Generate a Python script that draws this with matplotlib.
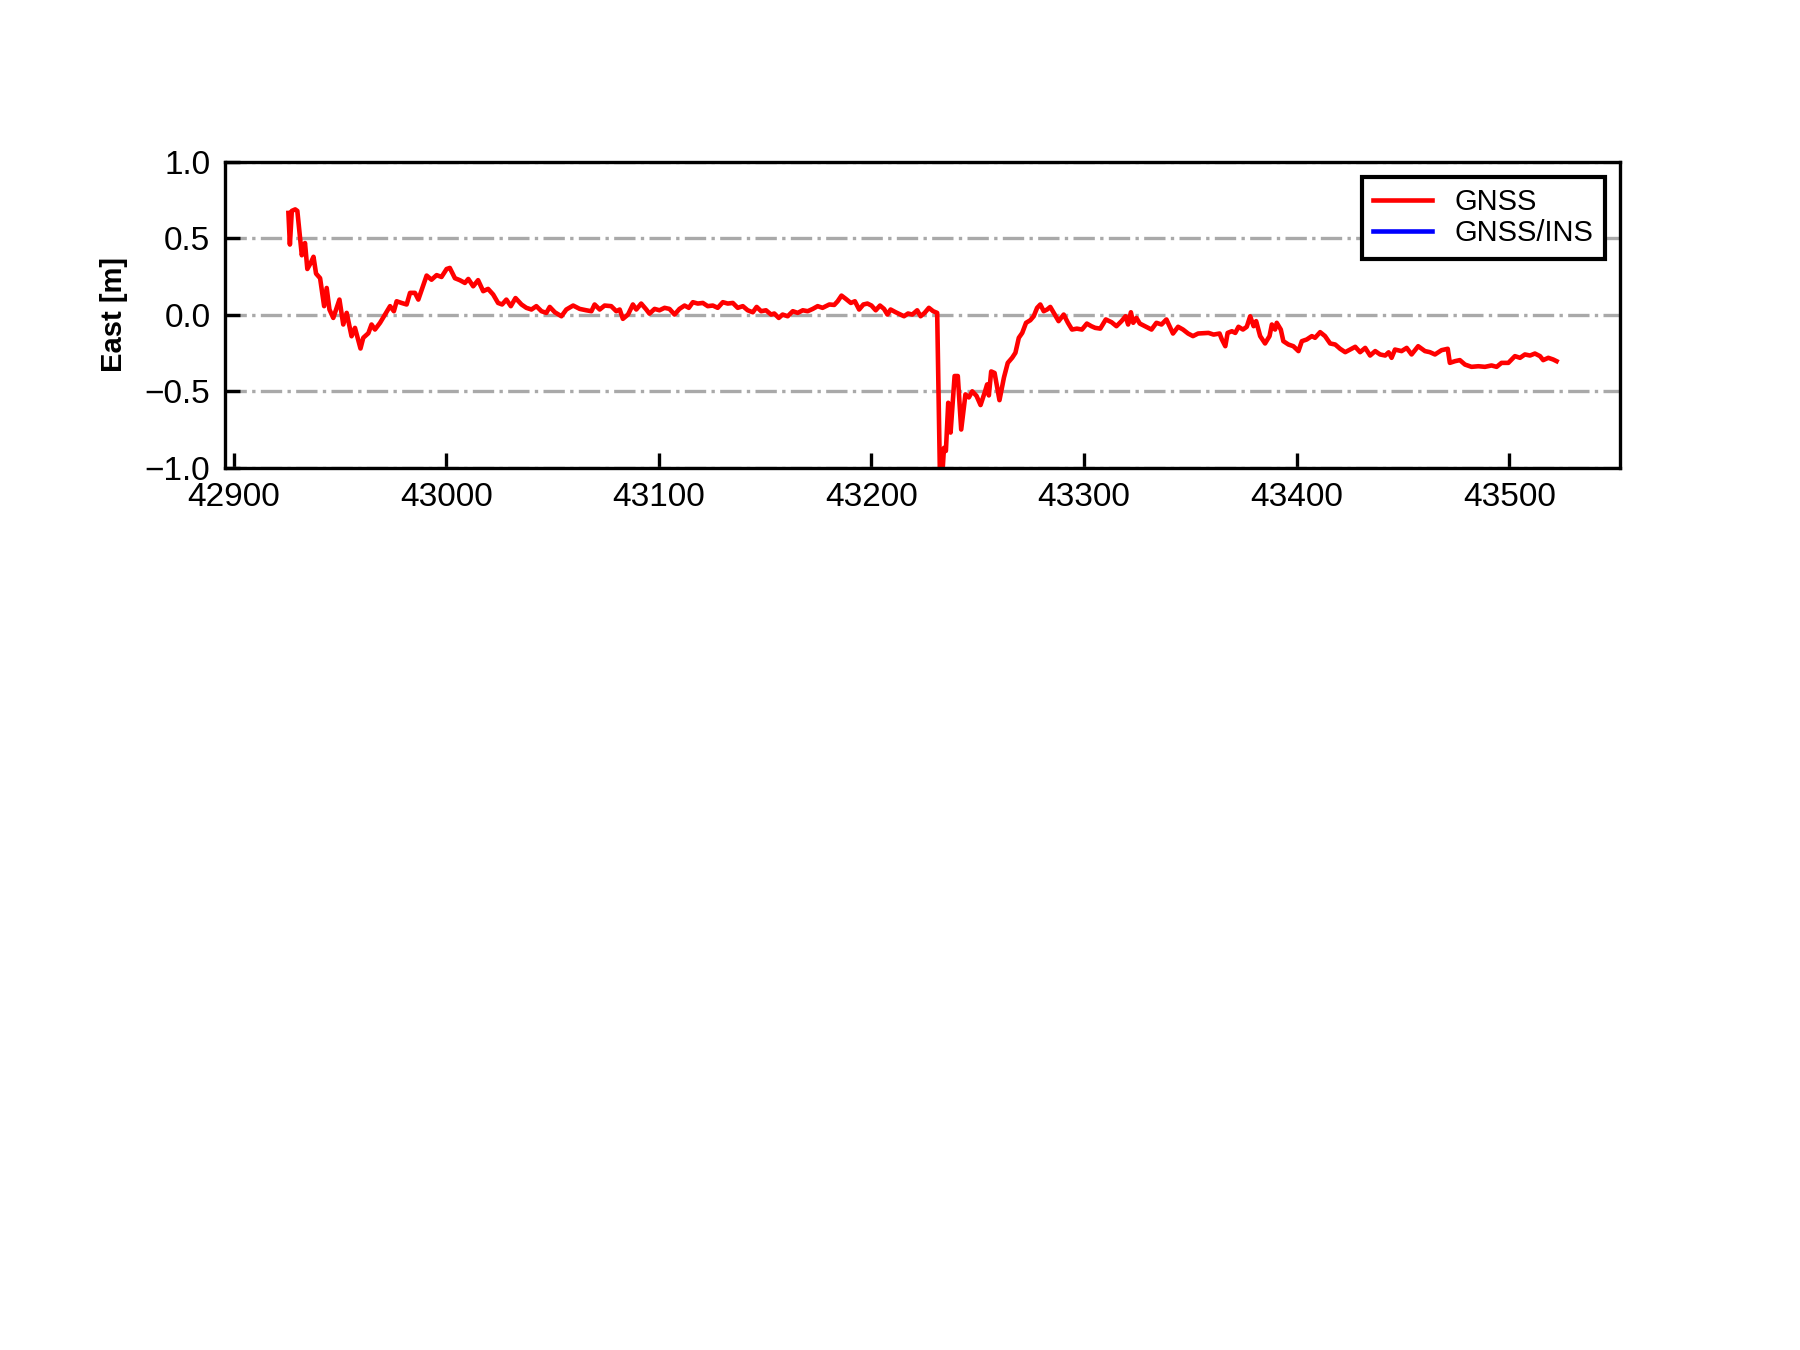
import matplotlib
matplotlib.use('Agg')
import matplotlib.pyplot as plt

plt.rcParams['font.family'] = ['Liberation Sans', 'DejaVu Sans']
plt.rcParams['font.size'] = 8

### GNSS east error (time in s of week)
t_gnss = [42925.8, 42926.5, 42927.4, 42929.0, 42930.0, 42932.1, 42933.6, 42934.7,
          42936.3, 42937.6, 42938.8, 42940.7, 42942.6, 42943.8, 42945.1, 42946.9,
          42949.8, 42951.6, 42953.2, 42955.5, 42957.1, 42959.7, 42961.0, 42963.4,
          42964.9, 42966.5, 42968.9, 42971.2, 42973.6, 42975.4, 42976.7, 42979.0,
          42981.4, 42983.0, 42985.3, 42986.9, 42990.8, 42993.1, 42995.5, 42997.8,
          43000.2, 43001.7, 43004.1, 43006.4, 43008.8, 43010.4, 43012.7, 43015.0,
          43017.4, 43019.7, 43022.1, 43024.4, 43026.3, 43028.3, 43030.4, 43032.6,
          43035.4, 43037.7, 43040.1, 43042.4, 43044.8, 43047.1, 43048.7, 43051.1,
          43054.2, 43056.5, 43059.7, 43062.8, 43065.9, 43068.3, 43069.8, 43072.2,
          43074.5, 43077.6, 43080.0, 43081.6, 43083.1, 43085.5, 43087.8, 43089.4,
          43091.7, 43094.1, 43095.6, 43098.0, 43100.3, 43102.7, 43105.0, 43107.4,
          43109.7, 43112.1, 43114.1, 43116.0, 43118.3, 43120.7, 43123.0, 43125.4,
          43127.7, 43130.1, 43132.4, 43134.8, 43137.1, 43139.5, 43141.8, 43144.2,
          43146.0, 43148.1, 43150.4, 43152.8, 43154.3, 43156.4, 43158.2, 43160.6,
          43163.0, 43165.3, 43167.7, 43170.0, 43172.4, 43174.7, 43177.0, 43180.2,
          43182.5, 43184.1, 43185.9, 43187.9, 43190.3, 43192.2, 43194.2, 43196.2,
          43198.1, 43200.0, 43202.0, 43204.0, 43205.9, 43207.5, 43209.0, 43211.4,
          43213.7, 43215.3, 43217.2, 43219.2, 43221.5, 43223.1, 43225.0, 43227.0,
          43229.0, 43230.9, 43232.2, 43233.3, 43234.1, 43235.0, 43236.1, 43237.2,
          43239.1, 43240.6, 43242.2, 43244.2, 43245.8, 43247.4, 43249.4, 43251.3,
          43253.2, 43254.4, 43255.2, 43256.3, 43257.9, 43260.2, 43262.3, 43264.1,
          43266.2, 43267.7, 43269.3, 43270.9, 43272.7, 43274.7, 43276.3, 43277.9,
          43279.4, 43281.0, 43282.6, 43284.1, 43286.2, 43288.0, 43290.4, 43292.4,
          43294.3, 43296.6, 43299.0, 43301.3, 43303.4, 43305.2, 43307.6, 43310.2,
          43312.9, 43315.2, 43317.6, 43319.5, 43320.7, 43322.0, 43323.1, 43324.6,
          43326.2, 43328.6, 43331.7, 43334.0, 43336.4, 43338.7, 43341.8, 43344.2,
          43346.5, 43348.9, 43351.2, 43353.6, 43355.9, 43358.5, 43360.9, 43363.7,
          43364.8, 43366.4, 43367.5, 43369.5, 43371.1, 43372.6, 43374.7, 43376.5,
          43378.1, 43379.7, 43380.9, 43382.8, 43385.1, 43387.2, 43388.3, 43389.8,
          43390.6, 43392.5, 43393.7, 43396.1, 43398.4, 43400.8, 43402.4, 43404.7,
          43407.1, 43408.6, 43411.0, 43413.3, 43415.7, 43418.1, 43420.4, 43422.8,
          43425.1, 43427.5, 43429.8, 43432.2, 43434.5, 43436.9, 43439.2, 43441.6,
          43443.2, 43444.6, 43446.2, 43449.3, 43451.7, 43454.0, 43457.1, 43460.3,
          43462.6, 43465.0, 43468.1, 43471.0, 43472.0, 43474.4, 43476.7, 43479.1,
          43482.2, 43485.4, 43488.5, 43491.6, 43494.0, 43496.3, 43499.5, 43502.6,
          43505.0, 43507.3, 43509.7, 43512.0, 43514.4, 43515.9, 43518.3, 43520.6,
          43522.2]
e_gnss = [0.667, 0.46, 0.68, 0.69, 0.68, 0.39, 0.47, 0.30,
          0.34, 0.38, 0.27, 0.24, 0.057, 0.176, 0.035, -0.02,
          0.10, -0.063, 0.013, -0.14, -0.085, -0.22, -0.15, -0.12,
          -0.063, -0.096, -0.052, 0.002, 0.057, 0.024, 0.089, 0.078,
          0.068, 0.144, 0.144, 0.10, 0.257, 0.23, 0.26, 0.248,
          0.30, 0.307, 0.24, 0.227, 0.209, 0.235, 0.187, 0.227,
          0.155, 0.17, 0.133, 0.078, 0.068, 0.10, 0.057, 0.11,
          0.068, 0.046, 0.035, 0.057, 0.024, 0.013, 0.052, 0.017,
          -0.009, 0.035, 0.061, 0.039, 0.03, 0.024, 0.068, 0.035,
          0.061, 0.057, 0.024, 0.035, -0.026, 0.002, 0.068, 0.035,
          0.074, 0.035, 0.008, 0.039, 0.03, 0.046, 0.039, 0.002,
          0.039, 0.061, 0.046, 0.083, 0.074, 0.078, 0.057, 0.061,
          0.046, 0.083, 0.074, 0.078, 0.046, 0.057, 0.03, 0.017,
          0.052, 0.024, 0.03, 0.002, 0.009, -0.02, 0.002, -0.009,
          0.024, 0.013, 0.03, 0.024, 0.039, 0.057, 0.046, 0.068,
          0.065, 0.089, 0.126, 0.105, 0.078, 0.089, 0.035, 0.068,
          0.074, 0.061, 0.03, 0.061, 0.039, 0.002, 0.035, 0.017,
          0.002, -0.009, 0.009, 0.002, 0.03, -0.009, 0.013, 0.046,
          0.024, 0.013, -1.05, -1.05, -0.87, -0.89, -0.575, -0.77,
          -0.40, -0.40, -0.75, -0.52, -0.54, -0.50, -0.53, -0.59,
          -0.51, -0.455, -0.527, -0.37, -0.38, -0.558, -0.41, -0.314,
          -0.28, -0.248, -0.15, -0.118, -0.052, -0.035, -0.009, 0.046,
          0.068, 0.024, 0.035, 0.052, 0.002, -0.041, 0.002, -0.052,
          -0.096, -0.09, -0.096, -0.057, -0.074, -0.085, -0.09, -0.03,
          -0.048, -0.074, -0.041, -0.009, -0.063, 0.017, -0.052, -0.02,
          -0.057, -0.074, -0.096, -0.052, -0.063, -0.03, -0.122, -0.078,
          -0.096, -0.122, -0.139, -0.122, -0.12, -0.118, -0.129, -0.122,
          -0.161, -0.205, -0.118, -0.107, -0.118, -0.078, -0.096, -0.078,
          -0.009, -0.074, -0.041, -0.139, -0.187, -0.139, -0.063, -0.096,
          -0.052, -0.096, -0.172, -0.194, -0.205, -0.237, -0.172, -0.161,
          -0.139, -0.15, -0.113, -0.139, -0.187, -0.194, -0.222, -0.244,
          -0.227, -0.209, -0.244, -0.216, -0.266, -0.237, -0.259, -0.266,
          -0.245, -0.281, -0.227, -0.237, -0.216, -0.259, -0.205, -0.237,
          -0.244, -0.259, -0.231, -0.222, -0.314, -0.303, -0.296, -0.325,
          -0.34, -0.336, -0.34, -0.331, -0.34, -0.314, -0.314, -0.27,
          -0.281, -0.259, -0.266, -0.253, -0.27, -0.296, -0.281, -0.292,
          -0.303]

### GNSS/INS : only present in the legend, no visible curve
t_ins = []
e_ins = []

fig = plt.figure(figsize=(6, 4.5), dpi=300)
ax = plt.subplot(311)
ax.plot(t_gnss, e_gnss, color='red', lw=1.1, label='GNSS')
ax.plot(t_ins, e_ins, color='blue', lw=1.1, label='GNSS/INS')
ax.set_ylim(-1, 1)
ax.ticklabel_format(axis='x', useOffset=False)
ax.tick_params(direction='in')
ax.yaxis.grid(True, linestyle='-.', color='darkgray', lw=0.8)
ax.set_ylabel('East [m]', fontweight='bold', fontsize=7)
ax.legend(loc='upper right', fancybox=False, edgecolor='black', framealpha=1,
          labelspacing=0.1, fontsize=7)

plt.savefig('out.png', dpi=300)
